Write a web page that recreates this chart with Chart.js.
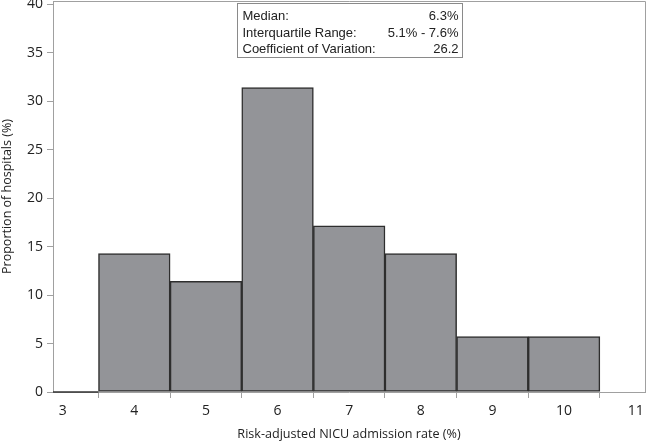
<!DOCTYPE html>
<html><head><meta charset="utf-8">
<script src="https://cdn.jsdelivr.net/npm/chart.js@4/dist/chart.umd.min.js"></script>
<style>html,body{margin:0;padding:0;background:#fff}#wrap{width:647px;height:442px}</style>
</head><body><div id="wrap"><canvas id="c" width="647" height="442"></canvas></div>
<script>
const binCenters = [3, 4, 5, 6, 7, 8, 9, 10];
const proportions = [0, 14.29, 11.43, 31.43, 17.14, 14.29, 5.71, 5.71];
const xTicks = [3, 4, 5, 6, 7, 8, 9, 10, 11];
const yTicks = [0, 5, 10, 15, 20, 25, 30, 35, 40];
const statLabels = ["Median:", "Interquartile Range:", "Coefficient of Variation:"];
const statValues = ["6.3%", "5.1% - 7.6%", "26.2"];
const xTitle = "Risk-adjusted NICU admission rate (%)";
const yTitle = "Proportion of hospitals (%)";

const FONT = "'Open Sans', 'Noto Sans', sans-serif";
const axisGray = '#a0a0a0';
const textCol = '#222';

const framePlugin = {
  id: 'frame',
  afterDatasetsDraw(chart) {
    const {ctx, chartArea: a, scales} = chart;
    ctx.save();
    ctx.strokeStyle = '#333'; ctx.lineWidth = 1.5;
    ctx.beginPath();
    binCenters.forEach((c, i) => {
      if (proportions[i] === 0) {
        const x0 = Math.max(a.left, scales.x.getPixelForValue(c - 0.5));
        const x1 = Math.min(a.right, scales.x.getPixelForValue(c + 0.5));
        const y = scales.y.getPixelForValue(0);
        ctx.moveTo(x0, y); ctx.lineTo(x1, y);
      }
    });
    ctx.stroke();
    ctx.restore();
  },
  afterDraw(chart) {
    const {ctx, chartArea: a} = chart;
    ctx.save();
    ctx.strokeStyle = axisGray; ctx.lineWidth = 1;
    ctx.beginPath();
    ctx.moveTo(a.left, a.top + 0.5); ctx.lineTo(a.right + 0.5, a.top + 0.5);
    ctx.lineTo(a.right + 0.5, a.bottom);
    ctx.stroke();
    const bx = 237.5, by = 3.5, bw = 225, bh = 54;
    ctx.fillStyle = '#fff'; ctx.fillRect(bx, by, bw, bh);
    ctx.strokeStyle = '#8a8a8a'; ctx.strokeRect(bx, by, bw, bh);
    ctx.font = "13px 'Liberation Sans', Arial, sans-serif";
    ctx.fillStyle = textCol; ctx.textBaseline = 'alphabetic';
    statLabels.forEach((l, i) => {
      const y = 20 + i * 16.6;
      ctx.textAlign = 'left'; ctx.fillText(l, bx + 5, y);
      ctx.textAlign = 'right'; ctx.fillText(statValues[i], bx + bw - 4, y);
    });
    ctx.restore();
  }
};

function zeroPad(s) { s.paddingTop = 0; s.paddingBottom = 0; s.paddingLeft = 0; s.paddingRight = 0; }

new Chart(document.getElementById('c'), {
  type: 'bar',
  data: {
    datasets: [{
      data: binCenters.map((c, i) => ({x: c, y: proportions[i]})),
      backgroundColor: '#939498',
      borderColor: '#2e2e2e',
      borderWidth: 1.5,
      borderSkipped: false,
      barPercentage: 1.0,
      categoryPercentage: 1.0
    }]
  },
  options: {
    responsive: false,
    animation: false,
    events: [],
    layout: {padding: {top: 1, right: 2, left: 0, bottom: 0}},
    plugins: {legend: {display: false}, tooltip: {enabled: false}},
    scales: {
      x: {
        type: 'linear', min: 2.865, max: 11.13, offset: false,
        afterBuildTicks(s) { s.ticks = xTicks.map(v => ({value: v})); },
        afterFit(s) { s.height = 50; zeroPad(s); },
        grid: {drawOnChartArea: false, drawTicks: true, tickLength: 6, color: axisGray, tickColor: axisGray},
        border: {display: true, color: axisGray, width: 1},
        ticks: {color: textCol, font: {family: FONT, size: 14}, padding: 5, maxRotation: 0, autoSkip: false},
        title: {display: true, text: xTitle, color: textCol, font: {family: FONT, size: 12.6}, padding: {top: 4, bottom: 0}}
      },
      y: {
        type: 'linear', min: 0, max: 40.36,
        afterBuildTicks(s) { s.ticks = yTicks.map(v => ({value: v})); },
        afterFit(s) { s.width = 53; zeroPad(s); },
        grid: {drawOnChartArea: false, drawTicks: true, tickLength: 6, color: axisGray, tickColor: axisGray},
        border: {display: true, color: axisGray, width: 1},
        ticks: {color: textCol, font: {family: FONT, size: 14}, padding: 4, autoSkip: false},
        title: {display: true, text: yTitle, color: textCol, font: {family: FONT, size: 12.5}, padding: {top: 0, bottom: 4}}
      }
    }
  },
  plugins: [framePlugin]
});
</script></body></html>
